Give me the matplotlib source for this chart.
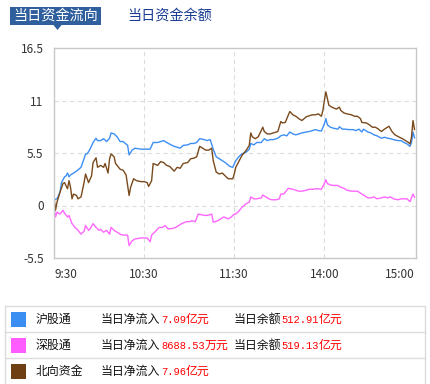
import matplotlib
matplotlib.use("Agg")
import matplotlib.pyplot as plt
from matplotlib.patches import Rectangle, Polygon

plt.rcParams['font.family'] = ['Noto Sans CJK SC', 'DejaVu Sans']

# ---------------- data ----------------
x_tick_pos = [0, 60, 120, 180, 240]
x_tick_labels = ["9:30", "10:30", "11:30", "14:00", "15:00"]
y_ticks = [-5.5, 0, 5.5, 11, 16.5]
y_tick_labels = ["-5.5", "0", "5.5", "11", "16.5"]

# 沪股通 (minutes since 9:30 in trading time, value in 亿元)
hgt_min = [0, 2, 4, 5, 7, 8, 9, 10, 11, 13, 15, 18, 20, 21, 22, 24, 26, 28, 29, 31, 33, 35, 37, 38, 40, 42, 44, 46,
           49, 50, 52, 54, 58, 62, 64, 66, 69, 71, 73, 75, 78, 80, 82, 84, 86, 89, 91, 93, 95, 97, 100, 102, 104,
           106, 108, 110, 112, 114, 117, 119, 121, 123, 125, 128, 130, 131, 133, 135, 138, 140, 142, 144, 146,
           149, 151, 153, 155, 157, 159, 161, 163, 165, 168, 170, 172, 174, 176, 178, 180, 181, 182, 184, 186,
           189, 190, 192, 194, 196, 199, 201, 203, 205, 206, 209, 211, 213, 215, 218, 220, 222, 224, 226, 229,
           231, 233, 235, 237, 238, 239, 240]
hgt_val = [0.6, 0.7, 1.4, 2.4, 3.0, 3.1, 3.4, 3.0, 3.2, 3.4, 3.6, 4.0, 4.9, 5.4, 5.4, 5.9, 6.6, 7.05, 6.8, 6.8, 7.0,
           6.7, 7.05, 7.6, 7.5, 7.2, 6.7, 6.7, 6.3, 5.3, 5.8, 6.0, 5.9, 5.9, 5.9, 6.6, 6.6, 6.7, 6.8, 6.6, 6.35,
           6.2, 6.1, 6.0, 6.3, 6.35, 6.5, 6.5, 6.6, 7.0, 6.9, 6.8, 6.9, 5.9, 5.1, 4.9, 4.7, 4.5, 4.1, 4.0, 4.7,
           5.1, 5.4, 5.6, 5.9, 6.5, 6.35, 6.6, 6.6, 7.0, 6.8, 6.9, 6.9, 7.05, 7.3, 7.4, 7.3, 7.7, 7.5, 7.4, 7.5,
           7.6, 7.7, 7.75, 7.85, 7.95, 7.85, 7.8, 8.55, 9.1, 8.45, 8.2, 8.1, 8.0, 8.25, 8.0, 8.0, 7.95, 7.95,
           7.85, 8.0, 7.7, 8.0, 7.7, 7.6, 7.4, 7.3, 7.05, 7.15, 7.05, 7.0, 6.9, 6.8, 6.8, 6.6, 6.45, 6.2, 6.6,
           7.7, 7.09]

# 深股通
sgt_min = [0, 1, 2, 4, 6, 7, 9, 10, 12, 14, 16, 18, 20, 21, 23, 24, 26, 28, 30, 31, 33, 35, 37, 38, 40, 42, 44, 46,
           49, 50, 52, 54, 58, 62, 64, 65, 67, 70, 72, 74, 76, 79, 81, 83, 85, 88, 90, 92, 94, 96, 99, 101, 103,
           105, 106, 109, 111, 113, 116, 118, 120, 121, 123, 125, 128, 130, 131, 133, 135, 138, 139, 141, 143,
           145, 148, 150, 151, 153, 154, 156, 159, 161, 163, 165, 168, 170, 172, 174, 176, 178, 180, 181, 182,
           184, 186, 189, 191, 193, 195, 198, 200, 202, 204, 206, 209, 211, 213, 215, 218, 220, 222, 224, 226,
           229, 231, 233, 235, 237, 238, 239, 240]
sgt_val = [-0.1, -1.2, -0.7, -0.9, -0.5, -0.8, -1.2, -1.05, -1.9, -2.3, -2.6, -3.0, -2.7, -2.1, -2.6, -2.45, -1.9,
           -2.3, -2.6, -2.5, -2.8, -2.6, -3.0, -2.3, -2.6, -2.8, -3.0, -3.1, -3.1, -4.2, -3.7, -3.5, -3.4, -3.4,
           -3.8, -3.1, -2.8, -2.3, -2.3, -2.1, -2.45, -2.4, -2.3, -2.1, -1.9, -1.7, -1.7, -1.6, -1.7, -0.9, -1.0,
           -1.05, -1.0, -0.9, -1.75, -1.6, -1.4, -1.2, -1.4, -1.2, -0.9, -0.9, -0.6, -0.2, 0.2, 0.35, 0.9, 0.7,
           0.7, 0.8, 1.1, 0.9, 0.7, 0.6, 0.6, 0.7, 1.2, 1.2, 1.4, 1.8, 1.7, 1.6, 1.5, 1.5, 1.6, 1.7, 1.7, 1.75,
           1.75, 1.7, 2.3, 2.7, 2.3, 2.15, 2.1, 2.1, 1.9, 1.8, 1.6, 1.5, 1.5, 1.5, 1.3, 1.1, 0.8, 0.8, 0.9, 0.7,
           0.8, 0.9, 0.8, 0.9, 0.7, 0.6, 0.7, 0.7, 0.7, 0.4, 0.8, 1.2, 0.87]

# 北向资金
bx_min = [0, 1, 2, 4, 6, 7, 9, 10, 11, 12, 13, 15, 16, 18, 20, 21, 23, 25, 26, 28, 29, 31, 33, 34, 36, 37, 38, 40,
          41, 44, 46, 48, 49, 50, 51, 53, 55, 58, 60, 62, 63, 65, 66, 69, 71, 73, 75, 77, 80, 82, 84, 86, 89, 91,
          93, 95, 97, 99, 101, 103, 105, 106, 108, 110, 112, 114, 116, 118, 119, 120, 121, 123, 125, 128, 130,
          131, 132, 134, 136, 139, 140, 142, 144, 146, 149, 151, 152, 154, 155, 157, 159, 161, 163, 165, 168,
          170, 172, 174, 176, 178, 179, 180, 181, 182, 183, 185, 188, 190, 191, 193, 195, 198, 200, 202, 204,
          205, 208, 210, 212, 214, 216, 218, 220, 223, 225, 227, 230, 232, 234, 236, 237, 238, 239, 240]
bx_val = [0.9, -0.5, 0.35, 1.4, 2.3, 2.4, 1.75, 2.6, 1.9, 0.7, 1.2, 1.05, 0.7, 0.9, 2.4, 3.3, 2.4, 3.1, 4.5, 5.0,
          4.0, 4.2, 4.0, 4.4, 3.4, 4.9, 5.4, 5.1, 4.4, 3.8, 3.7, 3.2, 2.1, 1.05, 1.9, 2.8, 2.6, 2.5, 2.5, 2.4,
          2.0, 2.6, 4.4, 4.2, 4.6, 4.5, 4.2, 4.1, 3.6, 4.0, 3.9, 4.4, 4.5, 4.9, 4.95, 5.1, 6.2, 6.0, 5.8, 5.8,
          6.0, 4.7, 3.5, 3.3, 3.4, 3.1, 2.8, 2.8, 2.8, 3.3, 4.0, 4.6, 5.2, 5.8, 6.3, 7.6, 7.2, 7.0, 7.2, 8.2,
          7.75, 7.5, 7.5, 7.6, 7.75, 8.8, 8.65, 8.7, 9.1, 9.85, 9.5, 9.35, 9.1, 8.9, 9.3, 9.4, 9.5, 9.5, 9.6,
          9.35, 9.95, 11.0, 11.9, 11.2, 10.5, 10.3, 10.1, 10.3, 9.95, 9.7, 9.6, 9.5, 9.35, 9.35, 9.1, 8.7, 8.65,
          8.45, 8.2, 8.2, 8.0, 7.75, 8.0, 8.3, 7.75, 7.4, 7.15, 7.0, 6.8, 6.6, 6.45, 7.15, 8.9, 7.96]

series_names = ["沪股通", "深股通", "北向资金"]
series_colors = ["#3a8ef2", "#ff5cff", "#6e3f12"]
line_colors = ["#3d8ff5", "#ff66ff", "#7a4a1c"]
net_inflow_num = ["7.09", "8688.53", "7.96"]
net_inflow_unit = ["亿元", "万元", "亿元"]
balance_num = ["512.91", "519.13", None]
balance_unit = ["亿元", "亿元", None]

tab_active = "当日资金流向"
tab_inactive = "当日资金余额"

# ---------------- figure ----------------
W, H = 430, 384
fig = plt.figure(figsize=(W / 100, H / 100), dpi=100)
fig.patch.set_facecolor("white")

def fx(px):
    return px / W

def fy(py):
    return 1 - py / H

# main chart axes: x 54..416, y 48..258 px
ax = fig.add_axes([fx(54), fy(258), fx(416) - fx(54), fy(48) - fy(258)])
for m, v, c in zip([hgt_min, sgt_min, bx_min], [hgt_val, sgt_val, bx_val], line_colors):
    ax.plot(m, v, color=c, lw=1.0, solid_joinstyle="round")

ax.set_xlim(0, 241)
ax.set_ylim(-5.5, 16.5)
ax.set_xticks(x_tick_pos)
ax.set_xticklabels(x_tick_labels)
ax.set_yticks(y_ticks)
ax.set_yticklabels(y_tick_labels)
ax.tick_params(length=0, labelsize=8.5, colors="#333333")
ax.tick_params(axis="y", pad=7.5)
ax.tick_params(axis="x", pad=7)
xl = ax.get_xticklabels()
xl[0].set_ha("left")
xl[-1].set_ha("right")
for s in ax.spines.values():
    s.set_color("#c8c8c8")
    s.set_linewidth(1.0)
for yv in [0, 5.5, 11]:
    ax.axhline(yv, color="#dddddd", lw=0.8, ls=(0, (4, 3)), zorder=0)
for xv in [60, 120, 180]:
    ax.axvline(xv, color="#dddddd", lw=0.8, ls=(0, (4, 3)), zorder=0)

# overlay axes in pixel coords
ov = fig.add_axes([0, 0, 1, 1], zorder=-1)
ov.set_xlim(0, W)
ov.set_ylim(H, 0)
ov.axis("off")

# tabs
ov.add_patch(Rectangle((10, 6.5), 91, 18.5, facecolor="#2f5f9c", edgecolor="none"))
ov.add_patch(Polygon([(53, 24.5), (62, 24.5), (57.5, 30)], closed=True, facecolor="#2f5f9c", edgecolor="none"))
ov.text(55.5, 15.8, tab_active, color="white", fontsize=10.2, ha="center", va="center")
ov.text(127.5, 15.8, tab_inactive, color="#1a3d94", fontsize=10.2, ha="left", va="center")

# legend table
border = "#dcdcdc"
ov.add_patch(Rectangle((4.5, 306), 420, 80, facecolor="none", edgecolor=border, lw=1.0))
for yy in [332.3, 358.3]:
    ov.plot([4.5, 424.5], [yy, yy], color=border, lw=1.0)

row_centers = [319.3, 345.3, 371.3]
mono = ["Liberation Mono", "DejaVu Sans Mono"]
digit_w = 6.2
for i, yc in enumerate(row_centers):
    ov.add_patch(Rectangle((11, yc - 7.3), 14.5, 14.5, facecolor=series_colors[i], edgecolor="none"))
    ov.text(35.7, yc, series_names[i], fontsize=8.6, color="#111111", ha="left", va="center")
    ov.text(101, yc, "当日净流入", fontsize=8.6, color="#111111", ha="left", va="center")
    n = net_inflow_num[i]
    ov.text(161, yc + 0.3, n, fontsize=7.45, color="#ff0000", ha="left", va="center", family=mono)
    ov.text(161 + digit_w * len(n), yc, net_inflow_unit[i], fontsize=8.6, color="#ff0000", ha="left", va="center")
    if balance_num[i] is not None:
        ov.text(233.3, yc, "当日余额", fontsize=8.6, color="#111111", ha="left", va="center")
        b = balance_num[i]
        ov.text(281, yc + 0.3, b, fontsize=7.45, color="#ff0000", ha="left", va="center", family=mono)
        ov.text(281 + digit_w * len(b), yc, balance_unit[i], fontsize=8.6, color="#ff0000", ha="left", va="center")

fig.savefig("out.png", dpi=100)
